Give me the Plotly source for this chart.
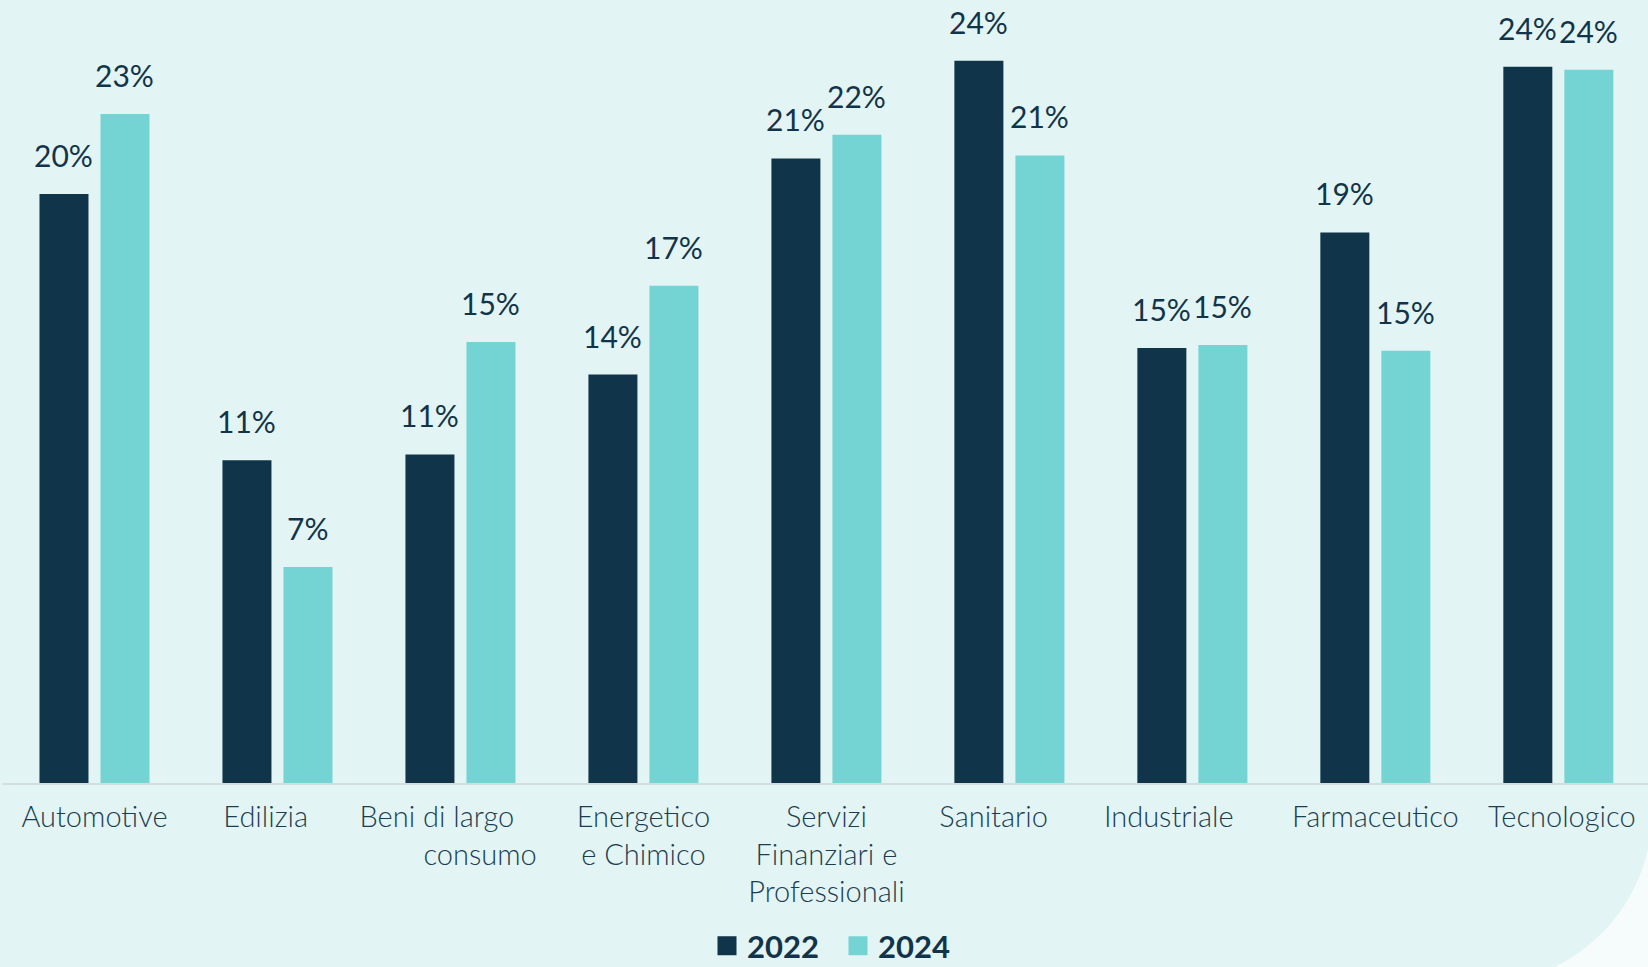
import plotly.graph_objects as go

# ---------------- data ----------------
categories = [
    "Automotive",
    "Edilizia",
    "Beni di largo<br>consumo",
    "Energetico<br>e Chimico",
    "Servizi<br>Finanziari e<br>Professionali",
    "Sanitario",
    "Industriale",
    "Farmaceutico",
    "Tecnologico",
]
# tick texts as printed (with the reference's slightly uneven alignment)
NB = "\u00a0"
tick_labels = [
    "Automotive",
    "Edilizia" + NB * 3,
    "Beni di largo" + NB * 6 + "<br>" + NB * 5 + "consumo",
    "Energetico<br>e Chimico",
    "Servizi<br>Finanziari e<br>Professionali",
    "Sanitario" + NB * 4,
    "Industriale" + NB * 6,
    "Farmaceutico",
    NB + "Tecnologico",
]
series_names = ["2022", "2024"]
values_2022 = [19.9, 10.9, 11.1, 13.8, 21.1, 24.4, 14.7, 18.6, 24.2]
values_2024 = [22.6, 7.3, 14.9, 16.8, 21.9, 21.2, 14.8, 14.6, 24.1]

# ---------------- style ----------------
W, H = 1648, 967
BG = "#E2F5F4"
CORNER = "#F6FCFC"
DARK = "#10344A"
TEAL = "#74D4D3"
TEXT = "#12344A"
LABEL = "#1B3D52"
M_L, M_R, M_T, M_B = 3, 0, 0, 184
PLOT_W = W - M_L - M_R
PLOT_H = H - M_T - M_B
PX_PER_UNIT = 29.6
Y_MAX = PLOT_H / PX_PER_UNIT
BAR_SHIFT = 30.5  # px from category centre to each bar centre

fig = go.Figure()
for name, vals, col in [(series_names[0], values_2022, DARK), (series_names[1], values_2024, TEAL)]:
    fig.add_trace(go.Bar(
        x=categories, y=vals, name=name, marker=dict(color=col, line=dict(width=0)),
        showlegend=False, hoverinfo="skip",
    ))
    # legend proxy with larger square
    fig.add_trace(go.Scatter(
        x=[None], y=[None], mode="markers", name=name,
        marker=dict(symbol="square", size=16, color=col, line=dict(color=col, width=3)),
        showlegend=True,
    ))

# value labels
for vals, shift in [(values_2022, -BAR_SHIFT), (values_2024, BAR_SHIFT)]:
    for c, v in zip(categories, vals):
        fig.add_annotation(
            x=c, y=v, xref="x", yref="y", text=f"{v:.0f}%", showarrow=False,
            xanchor="center", yanchor="bottom", xshift=shift, yshift=19,
            font=dict(family="Lato", size=30, color=TEXT),
        )

# decorative rounded corner bottom-right
def px(xp):
    return (xp - M_L) / PLOT_W

def py(yp):
    return (M_T + PLOT_H - yp) / PLOT_H

cx, cy, R = 1480, 812, 172
k = 0.5523 * R
path = (
    f"M {px(cx + R)},{py(cy)} "
    f"C {px(cx + R)},{py(cy + k)} {px(cx + k)},{py(cy + R)} {px(cx)},{py(cy + R)} "
    f"L {px(cx)},{py(1010)} L {px(1720)},{py(1010)} L {px(1720)},{py(cy)} Z"
)
fig.add_shape(type="path", path=path, xref="paper", yref="paper",
              fillcolor=CORNER, line=dict(width=0), layer="below")

fig.update_layout(
    width=W, height=H,
    paper_bgcolor=BG, plot_bgcolor=BG,
    margin=dict(l=M_L, r=M_R, t=M_T, b=M_B, pad=0, autoexpand=False),
    barmode="group", bargap=0.333, bargroupgap=0.197,
    font=dict(family="Lato", color=LABEL),
    showlegend=True,
    legend=dict(
        orientation="h", x=px(838), xanchor="center", y=py(946), yanchor="middle",
        font=dict(family="Lato", size=31, color=TEXT, weight="bold"),
        entrywidth=86, entrywidthmode="pixels", bgcolor="rgba(0,0,0,0)",
        itemclick=False, itemdoubleclick=False,
    ),
    xaxis=dict(
        type="category", range=[-0.5, 8.49], showgrid=False, zeroline=False,
        showline=True, linecolor="#D4DCDC", linewidth=2, ticks="",
        tickmode="array", tickvals=categories, ticktext=tick_labels,
        tickfont=dict(family="Lato", size=29, color=LABEL, weight=300), ticklabelstandoff=7,
        fixedrange=True,
    ),
    yaxis=dict(range=[0, Y_MAX], visible=False, showgrid=False, zeroline=False, fixedrange=True),
)

fig.write_html("out.html", config={"displayModeBar": False},
               post_script="document.body.style.margin='0';")
